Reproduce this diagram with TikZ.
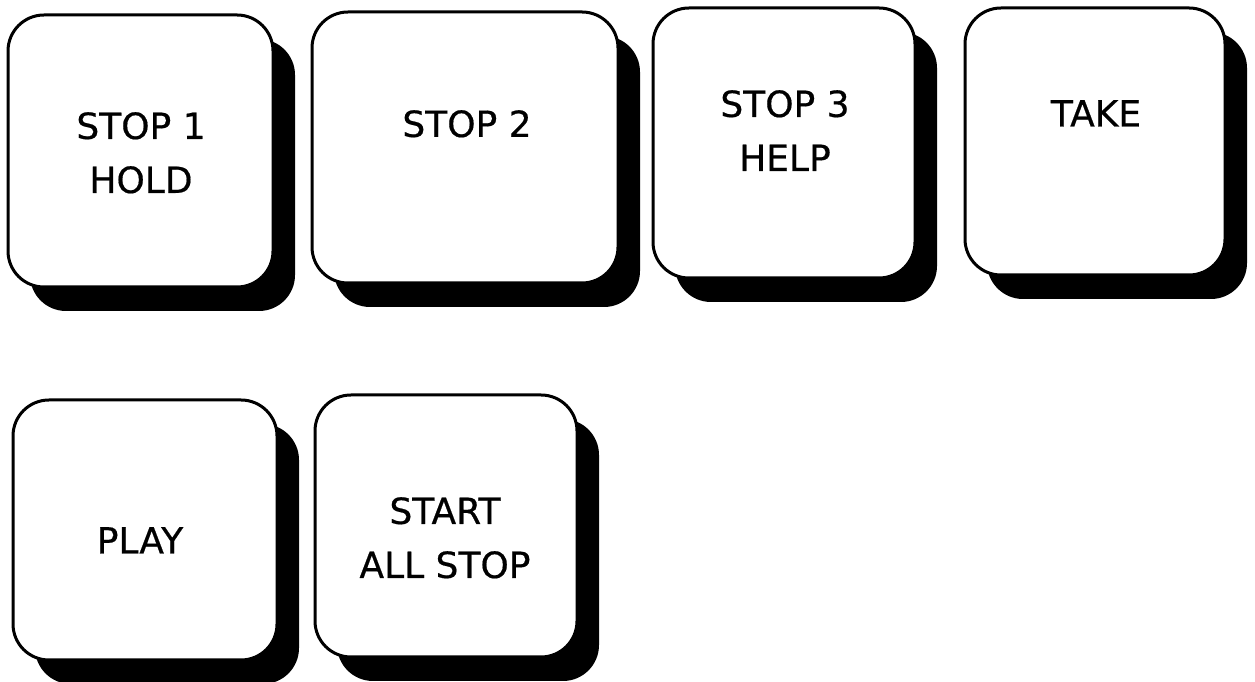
\documentclass[tikz,border=0pt]{standalone}
\usepackage{fontspec}
\setmainfont{DejaVu Sans}
\newfontfamily\keyfont{DejaVu Sans}[FakeBold=0.5]
\usepackage{tikz}
\usetikzlibrary{shadows}

\begin{document}
\begin{tikzpicture}[
  x=1pt, y=1pt,
  btn/.style={rectangle, draw, line width=3pt, rounded corners=36pt, fill=white,
    drop shadow={shadow xshift=22pt, shadow yshift=-24pt, fill=black, opacity=1}},
  btntext/.style={anchor=north, inner sep=0pt, align=center,
    font=\keyfont\fontsize{36pt}{54pt}\selectfont}
]
  \useasboundingbox (0,0) rectangle (1255,682);
  % upper row
  \node[btn, minimum width=265pt, minimum height=272pt] (stop1) at (140.5,531) {};
  \node[btn, minimum width=306pt, minimum height=271pt] (stop2) at (465,534.5) {};
  \node[btn, minimum width=262pt, minimum height=270pt] (stop3) at (784,539) {};
  \node[btn, minimum width=260pt, minimum height=267pt] (take) at (1095,540.5) {};
  % lower row
  \node[btn, minimum width=264pt, minimum height=260pt] (play) at (145,152) {};
  \node[btn, minimum width=262pt, minimum height=262pt] (allstop) at (446,156) {};
  % key texts
  \node[btntext] (stop1txt) at (141,570) {STOP 1\\HOLD};
  \node[btntext] (stop2txt) at (467,572) {STOP 2};
  \node[btntext] (stop3txt) at (785,592) {STOP 3\\HELP};
  \node[btntext] (taketxt) at (1096,582) {TAKE};
  \node[btntext] (playtxt) at (140,155) {PLAY};
  \node[btntext] (allstoptxt) at (445,185) {START\\ALL STOP};
\end{tikzpicture}
\end{document}
